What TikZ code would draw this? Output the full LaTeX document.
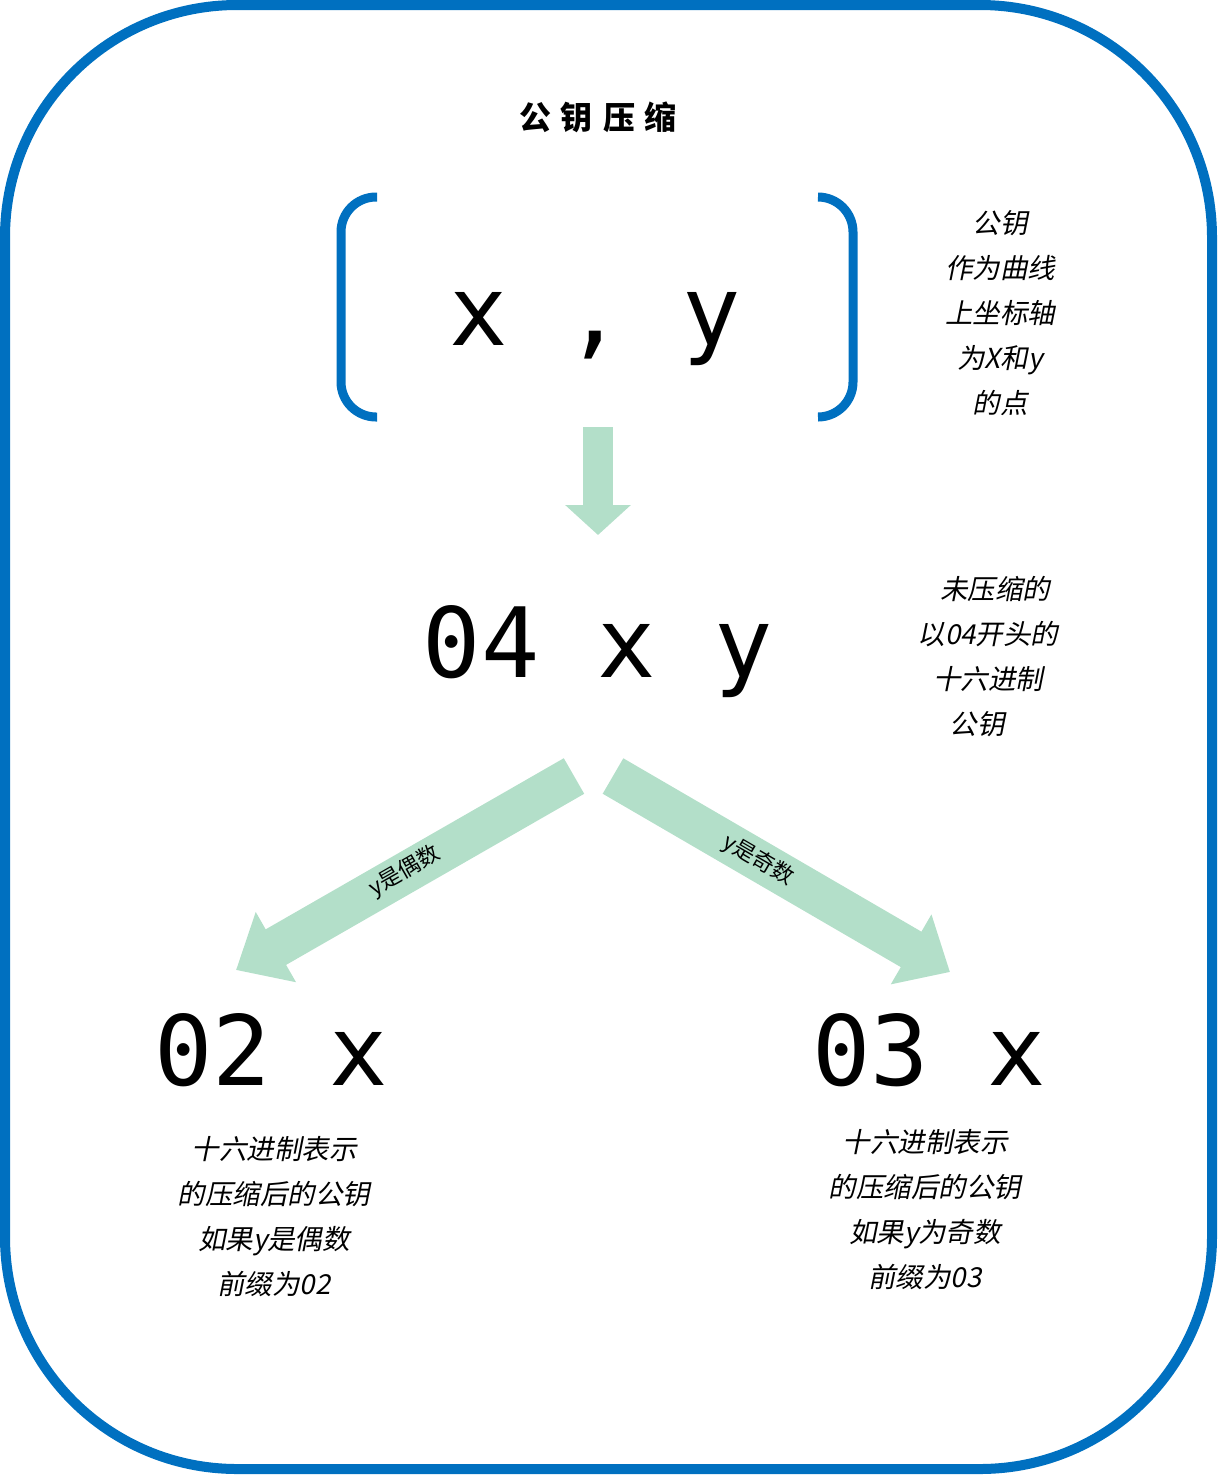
\documentclass[tikz,border=0pt]{standalone}
\usepackage{fontspec}
\setmonofont{DejaVu Sans Mono}
\newfontfamily\cjk{Noto Sans CJK SC}
\newfontfamily\cjkit[FakeSlant=0.2]{Noto Sans CJK SC}
\usetikzlibrary{arrows.meta}
\definecolor{frameblue}{RGB}{0,112,192}
\definecolor{mint}{RGB}{179,223,201}
\tikzset{
  bigtxt/.style={font=\ttfamily\fontsize{97}{97}\selectfont, anchor=base, inner sep=0pt},
  note/.style={font=\cjkit\fontsize{27.5}{45}\selectfont, align=center, inner sep=0pt},
  lbl/.style={font=\cjk\fontsize{22}{22}\selectfont, inner sep=0pt},
  bracket/.style={draw=frameblue, line width=9pt, rounded corners=35pt},
}
\begin{document}
\begin{tikzpicture}[x=1pt,y=-1pt]
\useasboundingbox (0,0) rectangle (1218,1476);
\draw[frameblue, line width=10pt, rounded corners=232pt] (5,5) rectangle (1212,1469);
\node[font=\cjk\bfseries\fontsize{32}{32}\selectfont] (title) at (598,117) {公\hspace{10pt}钥\hspace{10pt}压\hspace{10pt}缩};
% point (x,y)
\draw[bracket] (377,197) -- (341,197) -- (341,417) -- (377,417);
\draw[bracket] (818,197) -- (853,197) -- (853,417) -- (818,417);
\node[bigtxt] (pt) at (595,345) {x , y};
\node[note] (ptnote) at (1000,313) {公钥\\作为曲线\\上坐标轴\\为X和y\\的点};
% uncompressed
\node[bigtxt] (un) at (598,677) {04 x y};
\node[note] (unnote) at (988,657) {\hspace{14pt}未压缩的\\以04开头的\\十六进制\\公钥\hspace{22pt}\mbox{}};
% compressed
\node[bigtxt] (ev) at (271,1085) {02 x};
\node[note] (evnote) at (274,1217) {十六进制表示\\的压缩后的公钥\\如果y是偶数\\前缀为02};
\node[bigtxt] (od) at (929,1085) {03 x};
\node[note] (odnote) at (925,1210) {十六进制表示\\的压缩后的公钥\\如果y为奇数\\前缀为03};
% arrows
\coordinate (pt-out) at (598,427);
\coordinate (un-in) at (598,535);
\coordinate (un-l) at (574,776);
\coordinate (ev-in) at (236,970);
\coordinate (un-r) at (613,776);
\coordinate (od-in) at (950,972);
\draw[mint, line width=30pt, -{Triangle[length=30pt,width=64pt]}] (pt-out) -- (un-in);
\draw[mint, line width=41pt, -{Triangle[length=46pt,width=78pt]}] (un-l) -- (ev-in);
\draw[mint, line width=41pt, -{Triangle[length=45pt,width=78pt]}] (un-r) -- (od-in);
\node[lbl, rotate=29.7] (evlbl) at (405,871) {y是偶数};
\node[lbl, rotate=-30.2] (odlbl) at (758,860) {y是奇数};
\end{tikzpicture}
\end{document}
